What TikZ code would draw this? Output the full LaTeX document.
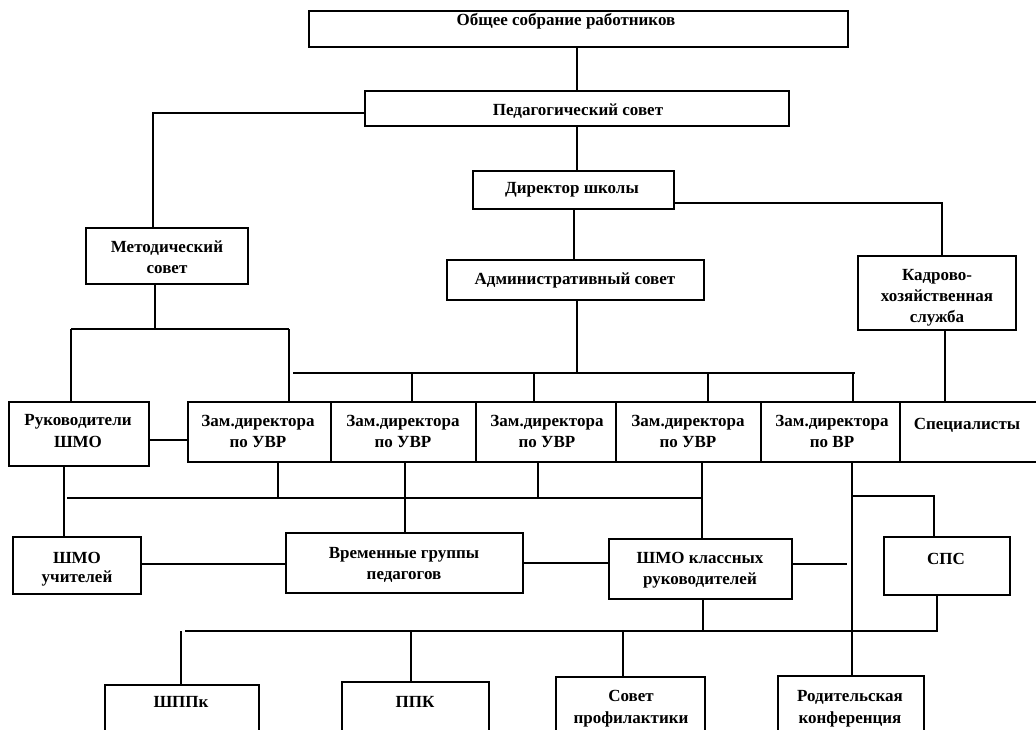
\documentclass[tikz,border=0pt]{standalone}
\usepackage{fontspec}
\setmainfont{Liberation Serif}
\begin{document}
\begin{tikzpicture}[x=1pt,y=-1pt,line width=1.3pt,
  box/.style={draw,line width=1.4pt,inner sep=0pt,outer sep=0pt},
  lbl/.style={font=\bfseries\fontsize{17}{20}\selectfont,inner sep=0pt,anchor=base}]
\useasboundingbox (0,0) rectangle (1036,730);
\clip (0,0) rectangle (1036,730);
% boxes
\node[box,minimum width=539,minimum height=36] (obs) at (578.5,29) {};
\node[box,minimum width=424,minimum height=35] (ped) at (577,108.5) {};
\node[box,minimum width=201,minimum height=38] (dir) at (573.5,190) {};
\node[box,minimum width=257,minimum height=40] (adm) at (575.5,280) {};
\node[box,minimum width=158,minimum height=74] (kad) at (937,293) {};
\node[box,minimum width=162,minimum height=56] (met) at (167,256) {};
\node[box,minimum width=140,minimum height=64] (ruk) at (79,434) {};
\node[box,minimum width=143,minimum height=60] (z1) at (259.5,432) {};
\node[box,minimum width=145,minimum height=60] (z2) at (403.5,432) {};
\node[box,minimum width=140,minimum height=60] (z3) at (546,432) {};
\node[box,minimum width=145,minimum height=60] (z4) at (688.5,432) {};
\node[box,minimum width=139,minimum height=60] (z5) at (830.5,432) {};
\node[box,minimum width=140,minimum height=60] (spec) at (970,432) {};
\node[box,minimum width=128,minimum height=57] (shu) at (77,565.5) {};
\node[box,minimum width=237,minimum height=60] (vrem) at (404.5,563) {};
\node[box,minimum width=183,minimum height=60] (shk) at (700.5,569) {};
\node[box,minimum width=126,minimum height=58] (sps) at (947,566) {};
\node[box,minimum width=154,minimum height=75] (shpk) at (182,722.5) {};
\node[box,minimum width=147,minimum height=78] (ppk) at (415.5,721) {};
\node[box,minimum width=149,minimum height=83] (sov) at (630.5,718.5) {};
\node[box,minimum width=146,minimum height=84] (rod) at (851,718) {};
% texts
\node[lbl] (tobs) at (566,26) {Общее собрание работников};
\node[lbl] (tped) at (578,116) {Педагогический совет};
\node[lbl] (tdir) at (572,194) {Директор школы};
\node[lbl] (tadm) at (575,284) {Административный совет};
\node[lbl] (tkad1) at (937,280) {Кадрово-};
\node[lbl] (tkad2) at (937,301) {хозяйственная};
\node[lbl] (tkad3) at (937,322) {служба};
\node[lbl] (tmet1) at (167,252) {Методический};
\node[lbl] (tmet2) at (167,273) {совет};
\node[lbl] (truk1) at (78,425) {Руководители};
\node[lbl] (truk2) at (78,447) {ШМО};
\node[lbl] (tz1a) at (258,426) {Зам.директора};
\node[lbl] (tz1b) at (258,447) {по УВР};
\node[lbl] (tz2a) at (403,426) {Зам.директора};
\node[lbl] (tz2b) at (403,447) {по УВР};
\node[lbl] (tz3a) at (547,426) {Зам.директора};
\node[lbl] (tz3b) at (547,447) {по УВР};
\node[lbl] (tz4a) at (688,426) {Зам.директора};
\node[lbl] (tz4b) at (688,447) {по УВР};
\node[lbl] (tz5a) at (832,426) {Зам.директора};
\node[lbl] (tz5b) at (832,447) {по ВР};
\node[lbl] (tspec) at (967,429) {Специалисты};
\node[lbl] (tshu1) at (77,563) {ШМО};
\node[lbl] (tshu2) at (77,582) {учителей};
\node[lbl] (tvrem1) at (404,558) {Временные группы};
\node[lbl] (tvrem2) at (404,579) {педагогов};
\node[lbl] (tshk1) at (700,563) {ШМО классных};
\node[lbl] (tshk2) at (700,584) {руководителей};
\node[lbl] (tsps) at (946,564) {СПС};
\node[lbl] (tshpk) at (181,707) {ШППк};
\node[lbl] (tppk) at (415,707) {ППК};
\node[lbl] (tsov1) at (631,701) {Совет};
\node[lbl] (tsov2) at (631,723) {профилактики};
\node[lbl] (trod1) at (850,701) {Родительская};
\node[lbl] (trod2) at (850,723) {конференция};
% coordinates
\coordinate (c0) at (577,0);
\coordinate (c3) at (574,0);
\coordinate (c1) at (153,113);
\coordinate (c2) at (942,203);
\coordinate (b0) at (293,373);
\coordinate (b1) at (855,373);
\coordinate (ba) at (577,373);
\coordinate (d2) at (412,373);
\coordinate (d3) at (534,373);
\coordinate (d4) at (708,373);
\coordinate (d5) at (853,373);
\coordinate (m0) at (71,329);
\coordinate (m1) at (155,329);
\coordinate (m2) at (289,329);
\coordinate (k1) at (945,332);
\coordinate (r) at (0,440);
\coordinate (u0) at (67,498);
\coordinate (u4) at (702,498);
\coordinate (v0) at (64,0);
\coordinate (v1) at (278,498);
\coordinate (v2) at (405,0);
\coordinate (v3) at (538,498);
\coordinate (v4) at (702,0);
\coordinate (v5) at (852,0);
\coordinate (w1) at (852,496);
\coordinate (w2) at (934,496);
\coordinate (h1) at (0,564);
\coordinate (h2) at (0,563);
\coordinate (h3) at (847,564);
\coordinate (g0) at (185,631);
\coordinate (g4) at (937,631);
\coordinate (g1) at (181,631);
\coordinate (g2) at (411,631);
\coordinate (g3) at (623,631);
\coordinate (g5) at (703,631);
% connectors
\draw (c0 |- obs.south) -- (c0 |- ped.north);
\draw (c1 -| ped.west) -- (c1) -- (c1 |- met.north);
\draw (ped.south) -- (ped.south |- dir.north);
\draw (c2 -| dir.east) -- (c2) -- (c2 |- kad.north);
\draw (c3 |- dir.south) -- (c3 |- adm.north);
\draw (ba |- adm.south) -- (ba);
\draw (b0) -- (b1);
\draw (d2) -- (d2 |- z2.north);
\draw (d3) -- (d3 |- z3.north);
\draw (d4) -- (d4 |- z4.north);
\draw (d5) -- (d5 |- z5.north);
\draw (m1 |- met.south) -- (m1);
\draw (m0) -- (m2);
\draw (m0) -- (m0 |- ruk.north);
\draw (m2) -- (m2 |- z1.north);
\draw (k1 |- kad.south) -- (k1 |- spec.north);
\draw (ruk.east |- r) -- (z1.west |- r);
\draw (v0 |- ruk.south) -- (v0 |- shu.north);
\draw (u0) -- (u4);
\draw (v1 |- z1.south) -- (v1);
\draw (v2 |- z2.south) -- (v2 |- vrem.north);
\draw (v3 |- z3.south) -- (v3);
\draw (v4 |- z4.south) -- (v4 |- shk.north);
\draw (v5 |- z5.south) -- (v5 |- rod.north);
\draw (w1) -- (w2) -- (w2 |- sps.north);
\draw (shu.east |- h1) -- (vrem.west |- h1);
\draw (vrem.east |- h2) -- (shk.west |- h2);
\draw (shk.east |- h3) -- (h3);
\draw (g0) -- (g4) -- (g4 |- sps.south);
\draw (g1) -- (g1 |- shpk.north);
\draw (g2) -- (g2 |- ppk.north);
\draw (g3) -- (g3 |- sov.north);
\draw (g5 |- shk.south) -- (g5);
\end{tikzpicture}
\end{document}
